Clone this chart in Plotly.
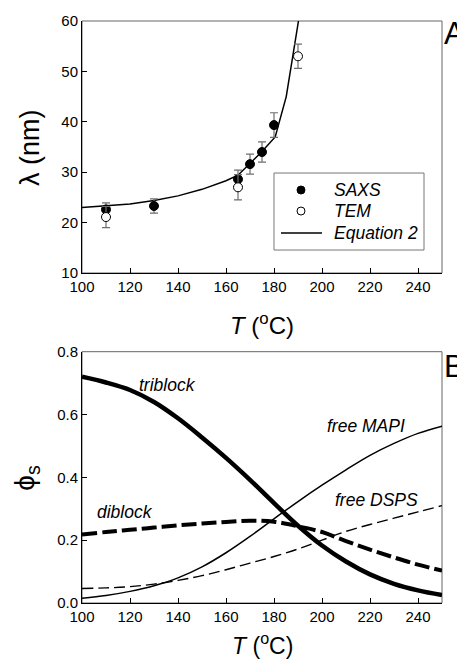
import plotly.graph_objects as go

# ---------------- Panel A data ----------------
saxs_T = [110, 130, 165, 170, 175, 180]
saxs_lam = [22.6, 23.3, 28.6, 31.6, 34.0, 39.35]
saxs_err = [1.3, 1.4, 1.8, 2.0, 2.0, 2.45]

tem_T = [110, 165, 190]
tem_lam = [21.1, 27.0, 53.0]
tem_err = [2.1, 2.5, 2.4]

eq_T = [100, 110, 120, 130, 140, 150, 160, 165, 170, 175, 180.5, 185.1, 190.2]
eq_lam = [23.0, 23.35, 23.7, 24.4, 25.3, 26.6, 28.3, 29.4, 31.8, 34.1, 37.0, 45.0, 60.0]

# ---------------- Panel B data ----------------
b_T = [100, 110, 120, 130, 140, 150, 160, 170, 180, 190, 200, 210, 220, 230, 240, 250]
triblock = [0.720, 0.702, 0.678, 0.640, 0.588, 0.527, 0.462, 0.392, 0.318, 0.246, 0.183, 0.132, 0.091, 0.061, 0.040, 0.025]
diblock = [0.218, 0.226, 0.233, 0.240, 0.247, 0.253, 0.258, 0.262, 0.259, 0.244, 0.226, 0.197, 0.170, 0.145, 0.122, 0.103]
free_mapi = [0.015, 0.024, 0.037, 0.055, 0.080, 0.115, 0.160, 0.212, 0.268, 0.323, 0.375, 0.424, 0.470, 0.508, 0.540, 0.563]
free_dsps = [0.046, 0.048, 0.052, 0.060, 0.072, 0.087, 0.106, 0.127, 0.148, 0.172, 0.200, 0.228, 0.250, 0.270, 0.290, 0.310]

x_ticks = [100, 120, 140, 160, 180, 200, 220, 240]
a_yticks = [10, 20, 30, 40, 50, 60]
b_yticks = [0.0, 0.2, 0.4, 0.6, 0.8]
b_ytick_text = ["0.0", "0.2", "0.4", "0.6", "0.8"]

legend_labels = ["SAXS", "TEM", "Equation 2"]

FONT = "Arial, Liberation Sans, sans-serif"
ERRC = "#6e6e6e"

fig = go.Figure()

fig.add_trace(go.Scatter(
    x=eq_T, y=eq_lam, mode="lines", name="Equation 2",
    line=dict(color="black", width=1.5), xaxis="x", yaxis="y"))

fig.add_trace(go.Scatter(
    x=saxs_T, y=saxs_lam, mode="markers", name="SAXS",
    marker=dict(symbol="circle", size=9, color="black", line=dict(color="black", width=1)),
    error_y=dict(type="data", array=saxs_err, color=ERRC, thickness=1.2, width=4),
    xaxis="x", yaxis="y"))

fig.add_trace(go.Scatter(
    x=tem_T, y=tem_lam, mode="markers", name="TEM",
    marker=dict(symbol="circle", size=9, color="white", line=dict(color="black", width=1)),
    error_y=dict(type="data", array=tem_err, color=ERRC, thickness=1.2, width=4),
    xaxis="x", yaxis="y"))

# Panel B
fig.add_trace(go.Scatter(x=b_T, y=free_dsps, mode="lines", name="free DSPS",
                         line=dict(color="black", width=1.4, dash="11px,5px", shape="spline"),
                         xaxis="x2", yaxis="y2"))
fig.add_trace(go.Scatter(x=b_T, y=free_mapi, mode="lines", name="free MAPI",
                         line=dict(color="black", width=1.5, shape="spline"),
                         xaxis="x2", yaxis="y2"))
fig.add_trace(go.Scatter(x=b_T, y=diblock, mode="lines", name="diblock",
                         line=dict(color="black", width=4, dash="15px,5px", shape="spline"),
                         xaxis="x2", yaxis="y2"))
fig.add_trace(go.Scatter(x=b_T, y=triblock, mode="lines", name="triblock",
                         line=dict(color="black", width=4.5, shape="spline"),
                         xaxis="x2", yaxis="y2"))

axis_common = dict(
    showgrid=False, zeroline=False, showline=True, linecolor="black", linewidth=1,
    ticks="inside", ticklen=5, tickcolor="black", tickwidth=1, automargin=False,
    tickfont=dict(family=FONT, size=15, color="black"), mirror=False,
)

# the page body has an 8px margin, so the figure is offset by 8px
fig.update_layout(
    template="none",
    width=457, height=651,
    margin=dict(l=74, r=23, t=13, b=56, pad=0),
    paper_bgcolor="white", plot_bgcolor="white",
    font=dict(family=FONT, color="black"),
    xaxis=dict(domain=[0, 1], range=[100, 250], tickvals=x_ticks, anchor="y", **axis_common),
    yaxis=dict(domain=[0.567, 1], range=[10, 60], tickvals=a_yticks, anchor="x", **axis_common),
    xaxis2=dict(domain=[0, 1], range=[100, 250], tickvals=x_ticks, anchor="y2", **axis_common),
    yaxis2=dict(domain=[0, 0.4318], range=[0, 0.8], tickvals=b_yticks, ticktext=b_ytick_text,
                anchor="x2", **axis_common),
    showlegend=False,
)

shapes = []
# frame (top/right borders in grey)
for xr, yr in (("x domain", "y domain"), ("x2 domain", "y2 domain")):
    shapes.append(dict(type="rect", xref=xr, yref=yr, x0=0, x1=1, y0=0, y1=1,
                       line=dict(color="#666", width=1), layer="below"))

# legend box for panel A
shapes.append(dict(type="rect", xref="paper", yref="paper", x0=0.5333, x1=0.95, y0=0.6065, y1=0.7388,
                   line=dict(color="#777", width=1), fillcolor="white", layer="above"))
leg_x = 0.6083
leg_y = [0.7096, 0.6735, 0.6357]
shapes.append(dict(type="circle", xref="paper", yref="paper", xsizemode="pixel", ysizemode="pixel",
                   xanchor=leg_x, yanchor=leg_y[0], x0=-4, x1=4, y0=-4, y1=4,
                   fillcolor="black", line=dict(color="black", width=1), layer="above"))
shapes.append(dict(type="circle", xref="paper", yref="paper", xsizemode="pixel", ysizemode="pixel",
                   xanchor=leg_x, yanchor=leg_y[1], x0=-4, x1=4, y0=-4, y1=4,
                   fillcolor="white", line=dict(color="black", width=1), layer="above"))
shapes.append(dict(type="line", xref="paper", yref="paper", x0=0.5528, x1=0.6667,
                   y0=leg_y[2], y1=leg_y[2], line=dict(color="black", width=1.5), layer="above"))
fig.update_layout(shapes=shapes)

ann = []
for lab, ly in zip(legend_labels, leg_y):
    ann.append(dict(text="<i>%s</i>" % lab, xref="paper", yref="paper", x=0.6944, y=ly,
                    showarrow=False, font=dict(size=17.5, family=FONT), xanchor="left", yanchor="middle"))
ann.append(dict(text="<i>T</i> (<sup>o</sup>C)", xref="paper", yref="paper", x=0.5, y=0.479,
                showarrow=False, font=dict(size=24, family=FONT), xanchor="center", yanchor="middle"))
ann.append(dict(text="<i>T</i> (<sup>o</sup>C)", xref="paper", yref="paper", x=0.5, y=-0.071,
                showarrow=False, font=dict(size=23, family=FONT), xanchor="center", yanchor="middle"))
ann.append(dict(text="λ (nm)", xref="paper", yref="paper", x=-0.144, y=0.782, textangle=-90,
                showarrow=False, font=dict(size=27, family=FONT), xanchor="center", yanchor="middle"))
ann.append(dict(text="ϕ<sub>s</sub>", xref="paper", yref="paper", x=-0.153, y=0.215, textangle=-90,
                showarrow=False, font=dict(size=28, family=FONT), xanchor="center", yanchor="middle"))
ann.append(dict(text="A", xref="paper", yref="paper", x=1.001, y=0.979, showarrow=False,
                font=dict(size=31, family=FONT), xanchor="left", yanchor="middle"))
ann.append(dict(text="B", xref="paper", yref="paper", x=1.001, y=0.407, showarrow=False,
                font=dict(size=31, family=FONT), xanchor="left", yanchor="middle"))
for txt, tx, ty in (("triblock", 135.6, 0.694), ("diblock", 118.1, 0.291),
                    ("free MAPI", 218.2, 0.564), ("free DSPS", 222.8, 0.328)):
    ann.append(dict(text="<i>%s</i>" % txt, xref="x2", yref="y2", x=tx, y=ty, showarrow=False,
                    font=dict(size=17.5, family=FONT), xanchor="center", yanchor="middle"))
fig.update_layout(annotations=ann)

fig.write_html("out.html")
